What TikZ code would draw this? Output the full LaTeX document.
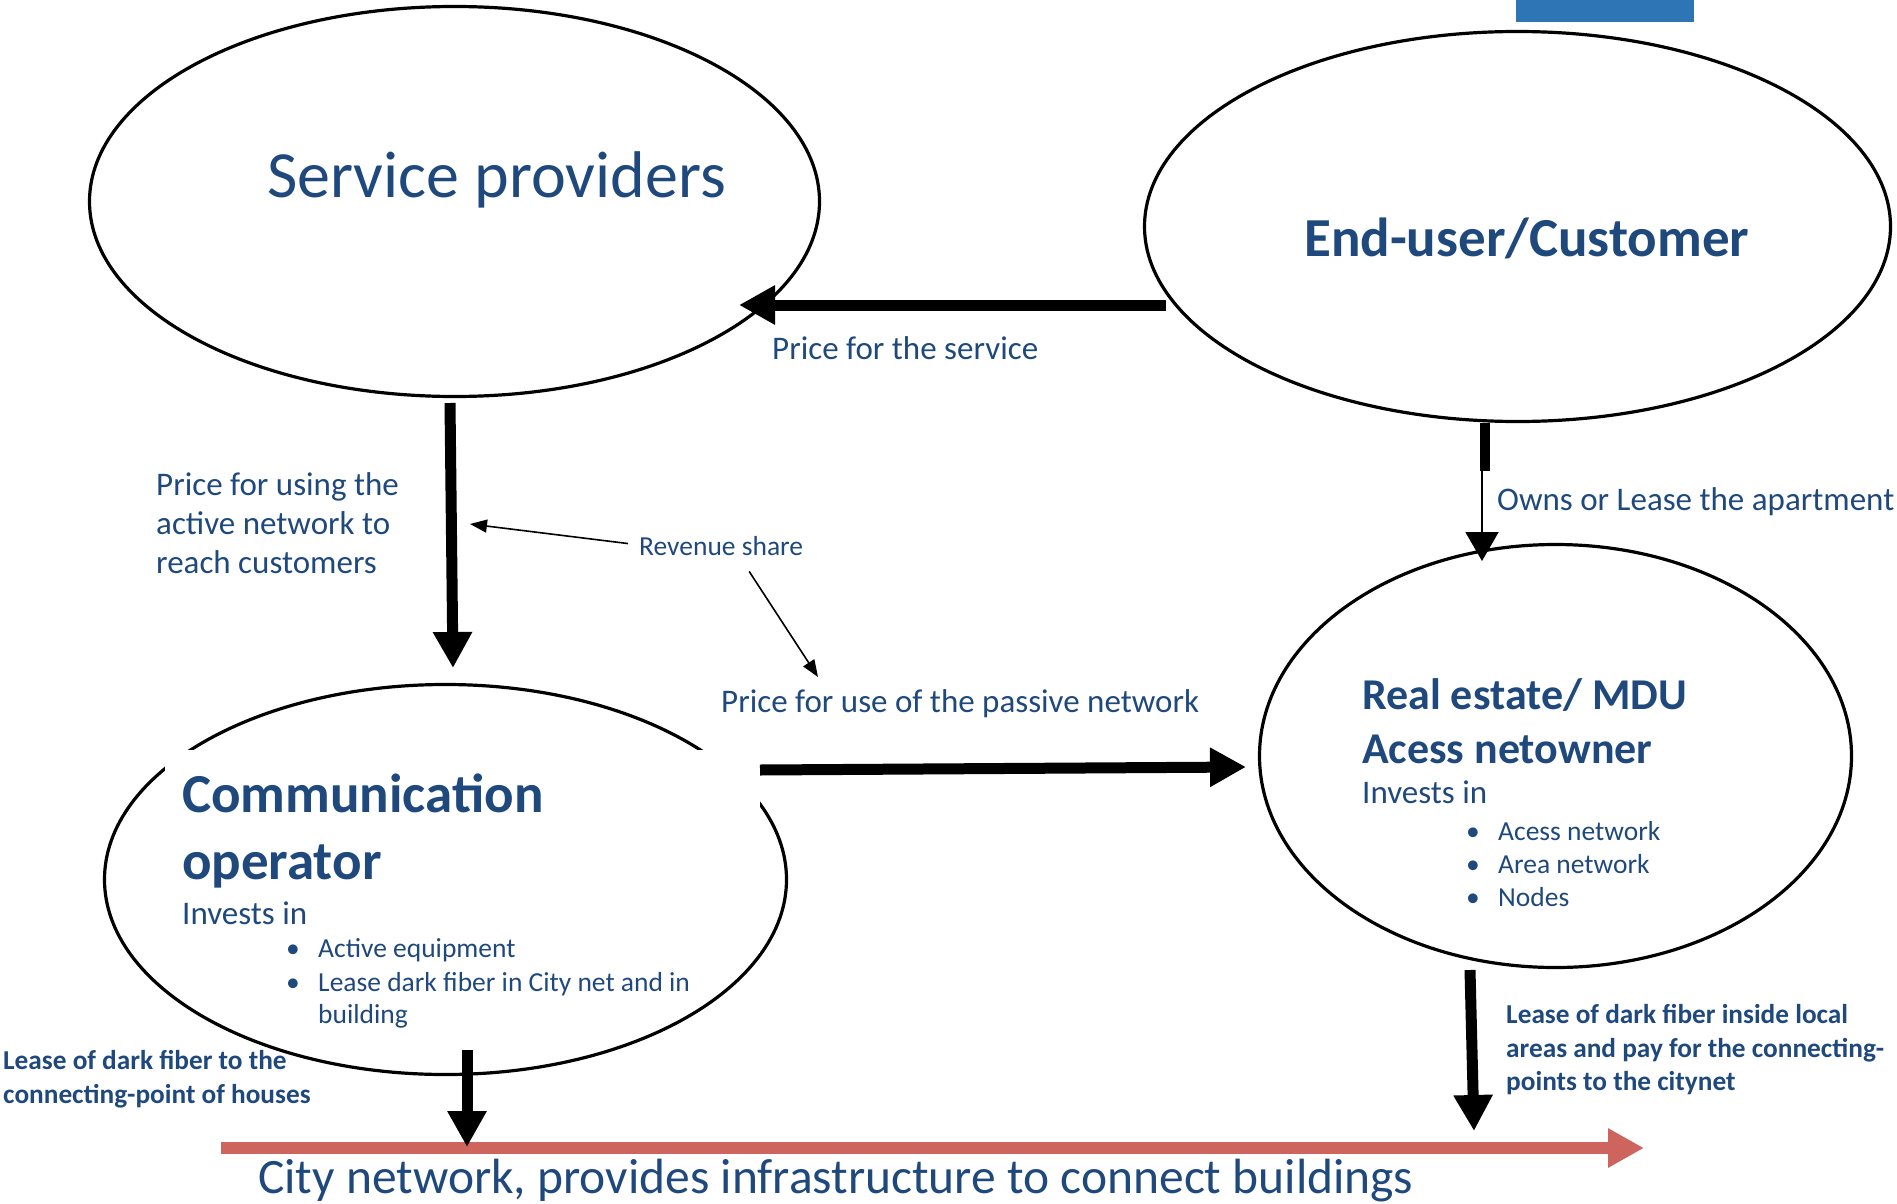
\documentclass[tikz,border=0pt]{standalone}
\usepackage{fontspec}
\setmainfont{Carlito}
\usetikzlibrary {positioning}
\usetikzlibrary{arrows.meta}
\usetikzlibrary{shapes.geometric}

\definecolor{navy}{RGB}{31,73,125}
\definecolor{cityred}{RGB}{205,101,94}
\definecolor{tabblue}{RGB}{46,117,182}

\tikzset{
  actor/.style={ellipse, draw, line width=3.2pt, inner sep=0pt},
  flow/.style={line width=11pt, -{Triangle[length=36pt,width=37pt]}},
  pointer/.style={line width=1.6pt, -{Triangle[length=17pt,width=13pt]}},
  txt/.style={text=navy, anchor=base west, inner sep=0pt},
}

\begin{document}
\begin{tikzpicture}[x=1pt, y=-1pt]
  % page in pixel units, y runs downwards
  \useasboundingbox (0,0) rectangle (1897,1204);

  % font sizes
  \def\fhuge{\fontsize{66}{79}\selectfont}
  \def\ftitle{\fontsize{55}{66}\selectfont\bfseries}
  \def\fsub{\fontsize{44}{53}\selectfont\bfseries}
  \def\fcity{\fontsize{49.5}{59}\selectfont}
  \def\fbody{\fontsize{33}{39}\selectfont}
  \def\fsmall{\fontsize{27.5}{33}\selectfont}
  \def\fsmallb{\fontsize{27.3}{33}\selectfont\bfseries}

  % tab on the top edge
  \fill[tabblue] (1516,0) rectangle (1694,22);

  % the four parties
  \node[actor, minimum width=730pt, minimum height=390pt] (sp) at (454.5,201.5) {};
  \node[actor, minimum width=746pt, minimum height=390pt] (eu) at (1517.5,226.5) {};
  \node[actor, minimum width=682pt, minimum height=390pt] (co) at (445.5,879.5) {};
  \node[actor, minimum width=592pt, minimum height=423pt] (re) at (1555.5,756) {};

  % white text box of the operator, laid over its outline
  \node[fill=white, anchor=north west, inner sep=0pt,
        minimum width=595pt, minimum height=203pt] (cobox) at (165,750) {};

  % ends of the connectors
  \coordinate (euW) at (1166,305);
  \coordinate (spE) at (739,305);
  \coordinate (spS) at (450,403);
  \coordinate (coN) at (453,668);
  \coordinate (euS) at (1485,423);
  \coordinate (euK) at (1485,471);
  \coordinate (reN) at (1482,561);
  \coordinate (coE) at (760,770);
  \coordinate (reW) at (1246,767);
  \coordinate (coS) at (467,1050);
  \coordinate (reS) at (1470,970);
  \coordinate (cityL) at (221,1148);
  \coordinate (cityR) at (1644,1148);
  \coordinate (cityA) at (467,1147);
  \coordinate (cityB) at (1474,1131);

  % city network line
  \draw[cityred, line width=12pt, -{Triangle[length=36pt,width=37pt]}] (cityL) -- (cityR);

  % money and lease flows
  \draw[flow] (euW) -- (spE);
  \draw[flow] (spS) -- (coN);
  \draw[line width=10pt] (euS) -- (euK);
  \draw[line width=2pt, -{Triangle[length=29pt,width=33pt]}] ([xshift=-3pt]euK) -- (reN);
  \draw[flow] (coE) -- (reW);
  \draw[flow] (coS) -- (cityA);
  \draw[flow] (reS) -- (cityB);

  % names of the parties
  \node[txt, font=\fhuge] (sptxt) at (267,197) {Service providers};
  \node[txt, font=\ftitle] (eutxt) at (1304,256) {End-user/Customer};
  \node[txt, font=\ftitle] (cot1) at (182,812) {Communication};
  \node[txt, font=\ftitle] (cot2) at (182,879) {operator};
  \node[txt, font=\fsub] (ret1) at (1362,709.5) {Real estate/ MDU};
  \node[txt, font=\fsub] (ret2) at (1362,763) {Acess netowner};

  % investments
  \node[txt, font=\fbody] (coinv) at (182,924) {Invests in};
  \foreach \t [count=\k] in {Active equipment, Lease dark fiber in City net and in}{
    \node[txt, font=\fsmall] (cob\k) at (286, 923+34*\k) {\textbullet};
    \node[txt, font=\fsmall] (coi\k) at (318, 923+34*\k) {\t};
  }
  \node[txt, font=\fsmall] (coi3) at (318,1023) {building};

  \node[txt, font=\fbody] (reinv) at (1362,803.5) {Invests in};
  \foreach \t [count=\k] in {Acess network, Area network, Nodes}{
    \node[txt, font=\fsmall] (reb\k) at (1466, 807+33*\k) {\textbullet};
    \node[txt, font=\fsmall] (rei\k) at (1498, 807+33*\k) {\t};
  }

  % flow labels
  \node[txt, font=\fbody] (pserv) at (772,359) {Price for the service};
  \node[txt, font=\fbody] (owns) at (1497,510) {Owns or Lease the apartment};
  \foreach \t [count=\k] in {Price for using the, active network to, reach customers}
    \node[txt, font=\fbody] (pu\k) at (156, 456+39*\k) {\t};
  \node[txt, font=\fbody] (ppas) at (721,712) {Price for use of the passive network};

  \foreach \t [count=\k] in {Lease of dark fiber inside local, areas and pay for the connecting-, points to the citynet}
    \node[txt, font=\fsmallb] (lr\k) at (1506, 990+33.5*\k) {\t};
  \foreach \t [count=\k] in {Lease of dark fiber to the, connecting-point of houses}
    \node[txt, font=\fsmallb] (ll\k) at (3, 1035+34*\k) {\t};

  % revenue share pointers
  \node[txt, font=\fsmall] (rev) at (639,555) {Revenue share};
  \coordinate (revA) at (470,524);
  \coordinate (revB) at (818,677);
  \draw[pointer] ([xshift=-11pt,yshift=2pt]rev.west) -- (revA);
  \draw[pointer] ([xshift=28pt,yshift=-16pt]rev.south) -- (revB);

  \node[txt, font=\fcity] (city) at (258,1193) {City network, provides infrastructure to connect buildings};
\end{tikzpicture}
\end{document}
